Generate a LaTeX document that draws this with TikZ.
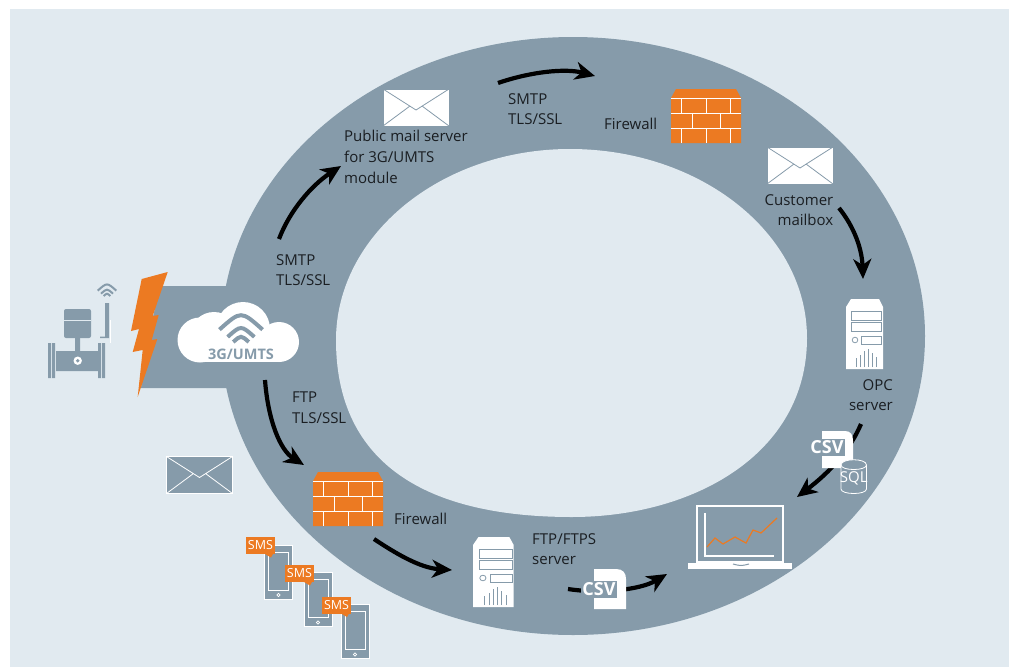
\documentclass[tikz,border=0pt]{standalone}
\usepackage{fontspec}
\setmainfont{Open Sans}
\usetikzlibrary{arrows.meta}
\definecolor{bgc}{HTML}{E1EAF0}
\definecolor{ringc}{HTML}{869BAA}
\definecolor{orangec}{HTML}{EC7A22}
\definecolor{txtc}{HTML}{1A1E22}
\tikzset{
  x=1pt,y=-1pt,
  lbl/.style={font=\fontsize{15}{20.7}\selectfont,text=txtc,inner sep=0pt,align=left,anchor=north west},
  lblr/.style={lbl,align=right,anchor=north east},
  flow/.style={line width=4.2pt,draw=black,-{Stealth[length=20pt,width=18pt,inset=6pt]}},
  csvtxt/.style={font=\fontsize{18}{18}\selectfont\bfseries,text=white,fill=ringc,inner sep=0pt,minimum width=36pt,minimum height=17pt},
  smstxt/.style={font=\fontsize{12.5}{12.5}\selectfont,text=white,fill=orangec,inner sep=0pt,minimum width=29pt,minimum height=17pt},
  pics/envelope/.style 2 args={code={
    \draw[fill=#1,draw=#2,line width=.8pt] (0,0) rectangle (66,37);
    \draw[draw=#2,line width=.8pt] (0,0) -- (33,21) -- (66,0) (0,37) -- (27,17) (66,37) -- (39,17);
  }},
  pics/firewall/.style={code={
    \fill[orangec] (5,0) -- (65,0) -- (70,9) -- (70,54) -- (0,54) -- (0,9) -- cycle;
    \draw[white,line width=1pt] (0,9) -- (70,9) (0,24) -- (70,24) (0,39) -- (70,39);
    \draw[white,line width=1pt] (10,9) -- (10,24) (35,9) -- (35,24) (59,9) -- (59,24)
      (21,24) -- (21,39) (49,24) -- (49,39)
      (10,39) -- (10,54) (35,39) -- (35,54) (59,39) -- (59,54);
  }},
  pics/server/.style={code={
    \fill[white] (5,0) -- (33,0) -- (37,8) -- (37,70) -- (0,70) -- (0,8) -- cycle;
    \draw[ringc,line width=.8pt] (5.5,12.5) rectangle (35.5,21) (5.5,23.5) rectangle (35.5,32)
      (15.5,37) rectangle (35.5,45);
    \draw[ringc,line width=.8pt] (9,41) circle[radius=2.8];
    \draw[ringc,line width=.7pt] (10.5,68) -- (10.5,59) (14.5,68) -- (14.5,56) (18.5,68) -- (18.5,52)
      (22.5,68) -- (22.5,50) (26,68) -- (26,54) (30,68) -- (30,58);
  }},
  pics/phone/.style={code={
    \draw[fill=ringc,draw=white,line width=.8pt] (0,0) rectangle (28,54);
    \draw[draw=white,line width=.8pt] (4,7) rectangle (24,45);
    \draw[draw=white,line width=.7pt] (14,50) circle[radius=1.6];
  }},
  pics/wifi/.style 2 args={code={
    \foreach \r in {#1,#2,0.36*#1}{
      \draw[line width=\wifilw,line cap=butt,draw=\wificol] (-.743*\r,-.669*\r) .. controls (0,-1.331*\r) .. (.743*\r,-.669*\r);
    }
  }},
}
\newcommand{\wifilw}{4pt}
\newcommand{\wificol}{ringc}
\begin{document}
\begin{tikzpicture}
\useasboundingbox (0,0) rectangle (1010,667);
\fill[white] (0,0) rectangle (1010,667);
\fill[bgc] (9.5,9) rectangle (1008.7,667);
% ring
\fill[ringc] (573,336) ellipse [x radius=352,y radius=299];
\fill[bgc] (336,340) .. controls (336,235) and (441,149) .. (570,149)
  .. controls (700,149) and (807,233) .. (807,338)
  .. controls (807,455) and (692,517) .. (572,517)
  .. controls (417,517) and (336,457) .. (336,340) -- cycle;
\fill[ringc] (160,286) -- (235,286) -- (235,388) -- (141,388) -- (150,330) -- cycle;
% bolt
\fill[orangec] (141.7,279) -- (167.7,272) -- (152.7,316) -- (158.7,315) -- (151.7,340) -- (157.3,339) -- (137.7,397) -- (142.7,350) -- (132.7,352) -- (139,329) -- (131,331) -- cycle;
% device
\fill[ringc,rounded corners=2pt] (64,309) rectangle (91,338);
\draw[bgc,line width=.7pt] (64,320) -- (91,320);
\fill[ringc] (75,338) rectangle (80,351) (56,351) rectangle (98,371)
  (48,343) rectangle (51,378) (52,343) rectangle (55,378)
  (98,343) rectangle (101,378) (102,343) rectangle (105,378)
  (105,303) rectangle (109,338) (100,336.5) rectangle (105,338);
\fill[white] (77.7,360.7) circle[radius=4.2];
\fill[ringc] (77.7,360.7) circle[radius=1.9];
\fill[white] (109.5,320) rectangle (110.5,343);
\renewcommand{\wifilw}{2pt}
\pic at (107,299) {wifi={12.5}{8}};
\renewcommand{\wifilw}{4pt}
% cloud
\fill[white] (200,340) circle[radius=22.5];
\fill[white] (214,336) circle[radius=24];
\fill[white] (243,329) circle[radius=27];
\fill[white] (279,342) circle[radius=20];
\fill[white] (200,340) rectangle (280,362);
\pic at (241,349) {wifi={29}{18}};
\node[font=\fontsize{14.5}{14.5}\selectfont\bfseries,text=ringc,inner sep=0pt] (cloudlabel) at (241,354) {3G/UMTS};
% envelopes
\pic at (383,89) {envelope={white}{ringc}};
\pic at (767,147) {envelope={white}{ringc}};
\pic at (166.5,456.5) {envelope={ringc}{white}};
% firewalls
\pic at (671,89) {firewall};
\pic at (313,472) {firewall};
% servers
\pic at (846,299) {server};
\pic[xscale=1.1] at (473,537) {server};
% laptop
\draw[fill=ringc,draw=white,line width=2.6pt] (697,506) rectangle (783,562);
\fill[white] (688,563) rectangle (792,569);
\draw[ringc,line width=1pt] (733,564) .. controls (741,566) .. (749,564);
\draw[white,line width=1.4pt] (705,513) -- (705,556) -- (774,556);
\draw[orangec,line width=1.2pt] (707,547) -- (715,538) -- (723,544) -- (735,537) -- (746,543) -- (753,530) -- (761,533) -- (777,518);
% flows
\coordinate (a1s) at (279,239); \coordinate (a1e) at (341,166);
\coordinate (a2s) at (498,83);  \coordinate (a2e) at (595,76);
\coordinate (a3s) at (839,208); \coordinate (a3e) at (863,279);
\coordinate (a4s) at (265,380); \coordinate (a4e) at (304,465);
\coordinate (a5s) at (374,539); \coordinate (a5e) at (452,570);
\coordinate (a6s) at (861,424); \coordinate (a6e) at (797,497);
\coordinate (a7s) at (568,589); \coordinate (a7e) at (667,574);
\draw[flow] (a1s) .. controls (290,210) and (312,185) .. (a1e);
\draw[flow] (a2s) .. controls (530,72) and (565,68) .. (a2e);
\draw[flow] (a3s) .. controls (855,228) and (862,250) .. (a3e);
\draw[flow] (a4s) .. controls (268,420) and (280,450) .. (a4e);
\draw[flow] (a5s) .. controls (395,553) and (420,568) .. (a5e);
\draw[flow] (a6s) .. controls (850,450) and (830,472) .. (a6e);
\draw[flow] (a7s) .. controls (600,594) and (640,590) .. (a7e);
% csv + sql
\fill[white] (822,431) -- (845,431) .. controls (851,431) and (853,435) .. (853,441) -- (853,468) -- (822,468) -- cycle;
\node[csvtxt] (csvtop) at (827,447) {CSV};
\fill[white] (594,569) -- (616,569) .. controls (623,569) and (626,573) .. (626,579) -- (626,609) -- (594,609) -- cycle;
\node[csvtxt] (csvbot) at (599,589) {CSV};
\draw[fill=ringc,draw=white,line width=.8pt] (841,465) -- (841,489) .. controls (841,495) and (866.5,495) .. (866.5,489) -- (866.5,465) .. controls (866.5,458) and (841,458) .. (841,465) -- cycle;
\draw[white,line width=.8pt] (841,465) .. controls (841,471) and (866.5,471) .. (866.5,465);
\node[font=\fontsize{15}{15}\selectfont,text=white,inner sep=0pt] (sql) at (853.7,478) {SQL};
% phones
\pic at (264.5,545) {phone};
\pic at (304,572.5) {phone};
\pic at (341,604.5) {phone};
\node[smstxt] (sms1) at (260.5,545.5) {SMS};
\node[smstxt] (sms2) at (299.5,573.5) {SMS};
\node[smstxt] (sms3) at (336.5,605) {SMS};
\fill[orangec] (265,554) -- (273,554) -- (271,557.5) -- cycle;
\fill[orangec] (304,582) -- (312,582) -- (310,585.5) -- cycle;
\fill[orangec] (341,613.5) -- (349,613.5) -- (347,617) -- cycle;
% labels
\node[lbl] (t1) at (344,130) {Public mail server\\for 3G/UMTS\\module};
\node[lbl] (t2) at (276,254) {SMTP\\TLS/SSL};
\node[lbl] (t3) at (508,93) {SMTP\\TLS/SSL};
\node[lbl] (t4) at (604,118) {Firewall};
\node[lblr] (t5) at (833.5,194) {Customer\\mailbox};
\node[lblr] (t6) at (893,379) {OPC\\server};
\node[lbl] (t7) at (292,392) {FTP\\TLS/SSL};
\node[lbl] (t8) at (394,513) {Firewall};
\node[lbl] (t9) at (532,533) {FTP/FTPS\\server};
\end{tikzpicture}
\end{document}
